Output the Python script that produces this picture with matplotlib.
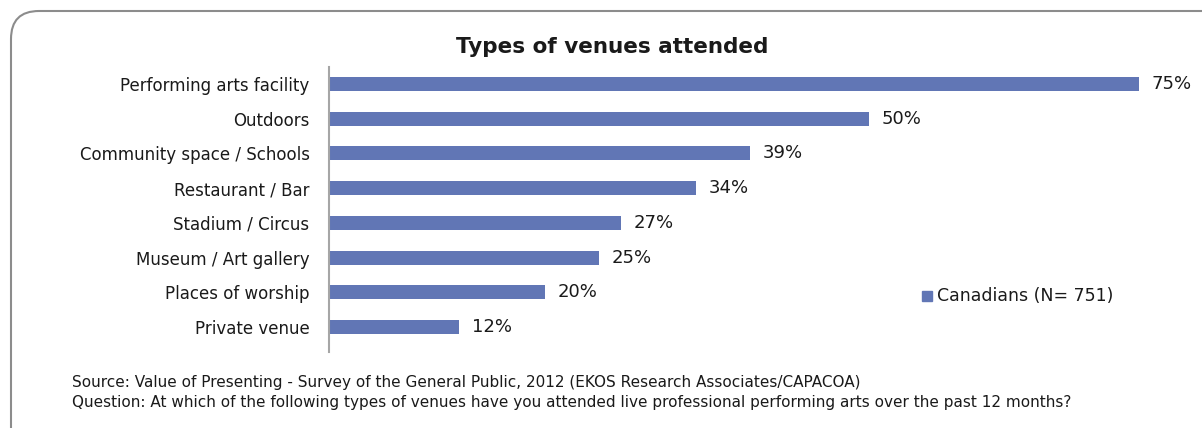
import matplotlib
matplotlib.use("Agg")
import matplotlib.pyplot as plt
from matplotlib.patches import FancyBboxPatch, Rectangle

# data
venues = ["Performing arts facility", "Outdoors", "Community space / Schools",
          "Restaurant / Bar", "Stadium / Circus", "Museum / Art gallery",
          "Places of worship", "Private venue"]
pct = [75, 50, 39, 34, 27, 25, 20, 12]
series_name = "Canadians (N= 751)"

W, H = 1202, 428
fig = plt.figure(figsize=(W / 100, H / 100), dpi=100)
plt.rcParams['font.family'] = ['DejaVu Sans']

# background axes in pixel units, for the rounded frame
bg = fig.add_axes([0, 0, 1, 1])
bg.set_xlim(0, W)
bg.set_ylim(H, 0)
bg.axis("off")
bg.add_patch(FancyBboxPatch((11, 11), W + 60, H + 60,
                            boxstyle="round,pad=0,rounding_size=28",
                            fill=False, edgecolor="#8c8c8c", linewidth=1.5))

# axes placed in pixel terms
left, right, top, bottom = 329, 1190, 67, 352
ax = fig.add_axes([left / W, 1 - bottom / H, (right - left) / W, (bottom - top) / H])
px_per_pct = 10.8
ax.set_xlim(0, (right - left) / px_per_pct)
ax.set_ylim(7.72, -0.49)

color = "#6176b5"
y = list(range(len(venues)))
ax.barh(y, pct, height=0.4, color=color)
for yi, v in zip(y, pct):
    ax.text(v + 1.2, yi, f"{v}%", va="center", ha="left", fontsize=13, color="#1a1a1a")

ax.set_yticks(y)
ax.set_yticklabels(venues, fontsize=12, color="#1a1a1a")
ax.tick_params(axis="y", length=0, pad=14)
ax.set_xticks([])
for s in ["top", "right", "bottom"]:
    ax.spines[s].set_visible(False)
ax.spines["left"].set_color("#a6a6a6")
ax.spines["left"].set_linewidth(1.5)

fig.text(612 / W, 1 - 47 / H, "Types of venues attended", ha="center", va="center",
         fontsize=15.5, fontweight="bold", color="#1a1a1a")

# legend drawn by hand to sit where the original has it
fig.patches.append(Rectangle((922 / W, 1 - 301 / H), 10 / W, 10 / H,
                             transform=fig.transFigure, color=color))
fig.text(937 / W, 1 - 296 / H, series_name, ha="left", va="center",
         fontsize=12.5, color="#1a1a1a")

fig.text(72 / W, 1 - 383 / H,
         "Source: Value of Presenting - Survey of the General Public, 2012 (EKOS Research Associates/CAPACOA)",
         ha="left", va="center", fontsize=11, color="#1a1a1a")
fig.text(72 / W, 1 - 402 / H,
         "Question: At which of the following types of venues have you attended live professional performing arts over the past 12 months?",
         ha="left", va="center", fontsize=11, color="#1a1a1a")

fig.savefig("out.png", dpi=100)
